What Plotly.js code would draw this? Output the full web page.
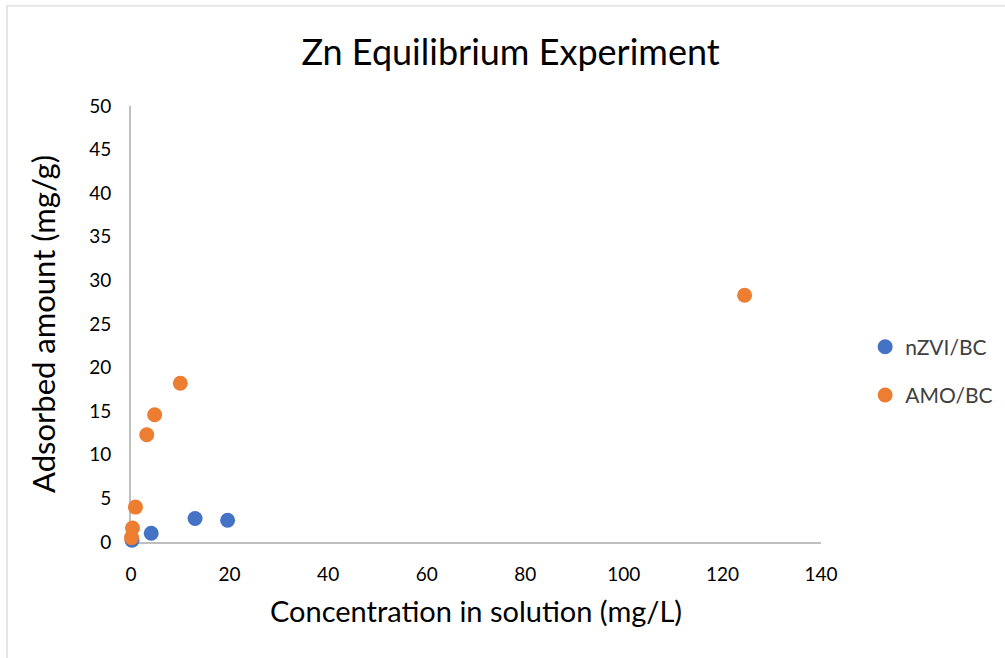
<!DOCTYPE html>
<html><head><meta charset="utf-8">
<script src="https://cdn.plot.ly/plotly-3.0.1.min.js"></script>
<style>html,body{margin:0;padding:0;background:#fff;}#chart{width:1005px;height:658px;}</style>
</head><body><div id="chart"></div>
<script>
const seriesNames = ["nZVI/BC", "AMO/BC"];
const nzviX = [0.2, 4.1, 13.0, 19.6];
const nzviY = [0.2, 1.0, 2.7, 2.5];
const amoX = [0.1, 0.3, 0.9, 3.2, 4.8, 10.0, 124.5];
const amoY = [0.5, 1.6, 4.0, 12.3, 14.6, 18.2, 28.3];
const xTicks = [0, 20, 40, 60, 80, 100, 120, 140];
const yTicks = [0, 5, 10, 15, 20, 25, 30, 35, 40, 45, 50];

const font = "Lato, 'Open Sans', sans-serif";
const traces = [
  {x: nzviX, y: nzviY, name: seriesNames[0], legendgroup: "a", mode: "markers", type: "scatter", cliponaxis: false,
   marker: {color: "#4472C4", size: 15}},
  {x: amoX, y: amoY, name: seriesNames[1], legendgroup: "b", mode: "markers", type: "scatter", cliponaxis: false,
   marker: {color: "#ED7D31", size: 15}}
];
const layout = {
  width: 1005, height: 658,
  margin: {l: 131, r: 184, t: 106, b: 116, autoexpand: false},
  paper_bgcolor: "#fff", plot_bgcolor: "#fff",
  font: {family: font, color: "#000"},
  title: {text: "Zn Equilibrium Experiment", font: {size: 36, color: "#000"}, xref: "container", x: 0.508, xanchor: "center", y: 0.921, yanchor: "middle"},
  xaxis: {range: [0, 140], tickvals: xTicks, ticktext: xTicks.map(String), showgrid: false, zeroline: false, layer: "below traces",
    showline: true, linecolor: "#bfbfbf", linewidth: 2, ticks: "", ticklabelstandoff: 14, tickfont: {size: 19, color: "#000"},
    title: {text: "Concentration in solution (mg/L)", font: {size: 29, color: "#000"}, standoff: 18}},
  yaxis: {range: [0, 50], tickvals: yTicks, ticktext: yTicks.map(String), showgrid: false, zeroline: false, layer: "below traces",
    showline: true, linecolor: "#bfbfbf", linewidth: 2, ticks: "", ticklabelstandoff: 14, tickfont: {size: 19, color: "#000"},
    title: {text: "Adsorbed amount (mg/g)", font: {size: 31, color: "#000"}, standoff: 24}},
  legend: {x: 1.064, xanchor: "left", y: 0.392, yanchor: "middle", font: {size: 21, color: "#404040"},
    bgcolor: "rgba(0,0,0,0)", traceorder: "grouped", tracegroupgap: 18},
  showlegend: true,
  shapes: [{type: "rect", xref: "paper", yref: "paper", x0: -0.1797, x1: 1.4, y0: 1.2298, y1: -0.4,
    line: {color: "#e6e6e6", width: 2}, fillcolor: "rgba(0,0,0,0)", layer: "below"}]
};
Plotly.newPlot("chart", traces, layout, {displayModeBar: false, staticPlot: true});
</script></body></html>
